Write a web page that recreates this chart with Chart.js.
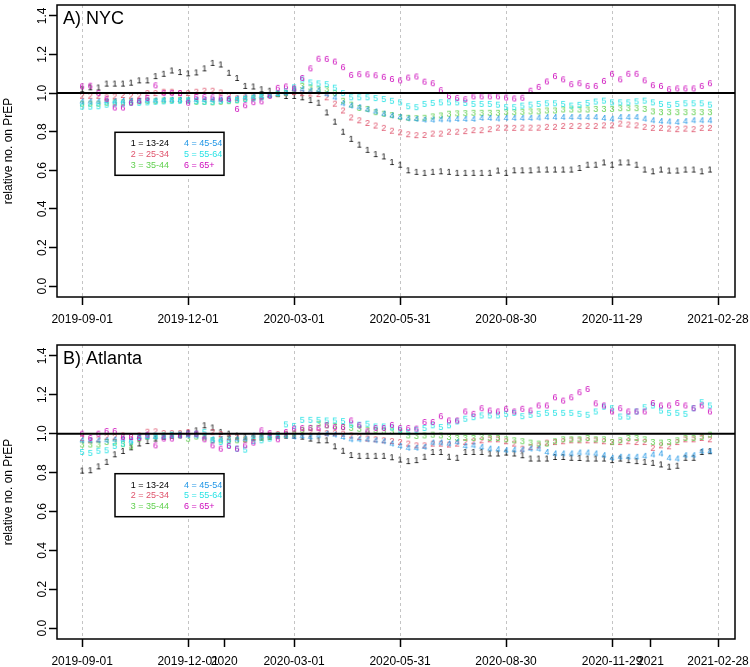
<!DOCTYPE html>
<html>
<head>
<meta charset="utf-8">
<script src="https://cdn.jsdelivr.net/npm/chart.js@4.4.0/dist/chart.umd.min.js"></script>
<style>
  html, body { margin: 0; padding: 0; background: #fff; }
  #wrap { position: relative; width: 750px; height: 667px; }
  canvas { position: absolute; left: 0; }
</style>
</head>
<body>
<div id="wrap">
  <canvas id="nyc" width="750" height="340" style="top:0px"></canvas>
  <canvas id="atl" width="750" height="327" style="top:340px"></canvas>
</div>
<script>
// weekly points, days since 2019-09-01
var weekDays = [];
for (var w = 0; w < 78; w++) weekDays.push(w * 7);

var tickDays = [0, 91, 182, 273, 364, 455, 546];
var tickLabels = ['2019-09-01', '2019-12-01', '2020-03-01', '2020-05-31', '2020-08-30', '2020-11-29', '2021-02-28'];
var yearDays = [122, 488];
var yearLabels = ['2020', '2021'];
var yTicks = [0, 0.2, 0.4, 0.6, 0.8, 1.0, 1.2, 1.4];

var groupLabels = ['1 = 13-24', '2 = 25-34', '3 = 35-44', '4 = 45-54', '5 = 55-64', '6 = 65+'];
var groupColors = ['#000000', '#DF536B', '#61D04F', '#2297E6', '#28E2E5', '#CD0BBC'];

// A) NYC
var nyc1 = [1.02,1.03,1.029,1.049,1.049,1.049,1.054,1.066,1.066,1.088,
  1.10,1.117,1.109,1.102,1.107,1.128,1.156,1.148,1.105,1.078,
  1.037,1.034,1.02,1.012,0.995,0.985,0.985,0.978,0.964,0.95,
  0.90,0.852,0.80,0.763,0.733,0.706,0.684,0.672,0.643,0.629,
  0.60,0.592,0.587,0.592,0.595,0.592,0.587,0.587,0.587,0.587,
  0.587,0.599,0.587,0.60,0.60,0.60,0.604,0.604,0.604,0.604,
  0.604,0.612,0.629,0.629,0.641,0.629,0.641,0.641,0.629,0.604,
  0.595,0.604,0.599,0.599,0.604,0.604,0.595,0.604];
var nyc2 = [0.986,0.986,0.986,0.978,0.983,0.99,0.986,0.986,1.0,1.0,
  1.007,1.007,1.0,1.0,1.007,1.012,1.012,1.003,0.986,0.973,
  0.978,0.983,0.986,0.99,0.995,1.0,1.005,1.0,0.998,0.995,
  0.978,0.945,0.91,0.874,0.859,0.845,0.832,0.82,0.805,0.797,
  0.787,0.782,0.783,0.79,0.79,0.80,0.80,0.803,0.808,0.808,
  0.813,0.821,0.821,0.82,0.821,0.821,0.821,0.825,0.825,0.83,
  0.83,0.83,0.83,0.83,0.833,0.833,0.842,0.837,0.833,0.825,
  0.82,0.82,0.816,0.813,0.816,0.813,0.82,0.82];
var nyc3 = [0.945,0.945,0.945,0.95,0.952,0.952,0.955,0.957,0.96,0.96,
  0.962,0.963,0.964,0.962,0.955,0.955,0.952,0.955,0.958,0.962,
  0.97,0.975,0.98,0.99,0.995,1.0,1.02,1.037,1.029,1.02,
  1.02,1.0,0.96,0.94,0.923,0.918,0.901,0.893,0.886,0.876,
  0.872,0.87,0.872,0.879,0.884,0.893,0.895,0.896,0.898,0.898,
  0.898,0.898,0.901,0.901,0.903,0.905,0.905,0.91,0.91,0.915,
  0.915,0.915,0.915,0.918,0.918,0.918,0.922,0.922,0.922,0.918,
  0.905,0.901,0.901,0.901,0.901,0.901,0.901,0.901];
var nyc4 = [0.956,0.956,0.956,0.958,0.958,0.96,0.96,0.96,0.962,0.962,
  0.965,0.965,0.965,0.965,0.965,0.965,0.965,0.965,0.968,0.972,
  0.978,0.982,0.985,0.99,0.995,1.0,1.02,1.02,1.012,1.015,
  0.995,0.978,0.947,0.935,0.927,0.915,0.905,0.893,0.884,0.876,
  0.869,0.866,0.862,0.862,0.864,0.864,0.866,0.866,0.866,0.871,
  0.871,0.868,0.871,0.871,0.871,0.871,0.873,0.876,0.876,0.876,
  0.876,0.876,0.876,0.876,0.871,0.867,0.876,0.876,0.876,0.867,
  0.859,0.855,0.853,0.85,0.855,0.859,0.859,0.859];
var nyc5 = [0.93,0.93,0.932,0.94,0.945,0.945,0.95,0.95,0.952,0.955,
  0.957,0.96,0.96,0.962,0.958,0.955,0.955,0.96,0.962,0.965,
  0.968,0.972,0.978,0.99,1.0,1.01,1.03,1.07,1.055,1.05,
  1.046,1.028,1.0,0.978,0.978,0.978,0.974,0.969,0.96,0.952,
  0.932,0.927,0.944,0.949,0.952,0.952,0.952,0.949,0.944,0.944,
  0.944,0.94,0.927,0.927,0.935,0.94,0.944,0.947,0.947,0.944,
  0.935,0.939,0.949,0.956,0.961,0.952,0.952,0.952,0.957,0.961,
  0.952,0.944,0.939,0.944,0.947,0.947,0.947,0.94];
var nyc6 = [1.035,1.038,1.0,0.97,0.925,0.925,0.95,0.96,0.975,1.04,
  1.0,1.0,1.0,0.95,0.98,0.98,0.978,0.973,0.97,0.918,
  0.937,0.953,0.957,0.985,1.027,1.034,1.024,1.078,1.128,1.178,
  1.177,1.163,1.134,1.094,1.098,1.097,1.092,1.084,1.073,1.066,
  1.08,1.086,1.059,1.051,1.015,0.985,0.975,0.968,0.983,0.983,
  0.983,0.983,0.977,0.972,0.976,1.012,1.032,1.06,1.088,1.071,
  1.046,1.051,1.037,1.037,1.063,1.10,1.071,1.10,1.10,1.066,
  1.041,1.037,1.02,1.024,1.024,1.024,1.037,1.051];

// B) Atlanta
var atl1 = [0.81,0.812,0.832,0.855,0.894,0.911,0.93,0.95,0.962,0.975,
  0.985,0.99,0.995,1.005,1.017,1.043,1.032,1.009,1.0,0.99,
  0.985,0.98,0.98,0.985,0.99,0.99,0.99,0.985,0.975,0.966,
  0.966,0.935,0.912,0.89,0.886,0.886,0.886,0.886,0.879,0.867,
  0.859,0.864,0.881,0.906,0.906,0.881,0.876,0.906,0.906,0.906,
  0.898,0.898,0.903,0.898,0.889,0.872,0.872,0.872,0.88,0.88,
  0.876,0.875,0.872,0.872,0.872,0.864,0.872,0.864,0.859,0.855,
  0.85,0.842,0.83,0.835,0.876,0.876,0.906,0.91];
var atl2 = [0.978,0.966,0.971,0.983,0.983,0.991,0.983,0.991,1.01,1.012,
  1.003,1.003,1.003,1.008,1.0,0.991,1.008,0.998,0.983,0.983,
  0.971,0.983,0.99,0.995,0.998,1.0,1.0,1.008,1.008,1.008,
  1.003,1.003,1.0,0.991,0.983,0.975,0.971,0.966,0.962,0.957,
  0.949,0.94,0.94,0.949,0.949,0.944,0.949,0.957,0.961,0.966,
  0.971,0.971,0.961,0.949,0.923,0.932,0.94,0.954,0.957,0.961,
  0.966,0.966,0.966,0.966,0.961,0.957,0.957,0.961,0.957,0.957,
  0.927,0.94,0.935,0.957,0.971,0.971,0.978,0.971];
var atl3 = [0.944,0.944,0.944,0.957,0.955,0.946,0.935,0.974,0.985,0.985,
  0.99,0.99,0.99,0.974,0.985,0.98,0.966,0.966,0.966,0.966,
  0.97,0.975,0.98,0.985,0.99,0.995,1.0,1.02,1.03,1.051,
  1.043,1.04,1.035,1.03,1.025,1.02,1.018,1.015,1.012,1.01,
  0.991,0.988,0.991,0.995,0.991,0.983,0.978,0.978,0.978,0.983,
  0.978,0.978,0.971,0.966,0.961,0.954,0.949,0.949,0.961,0.971,
  0.971,0.971,0.978,0.971,0.971,0.957,0.966,0.978,0.978,0.971,
  0.957,0.954,0.957,0.966,0.978,0.978,0.983,0.995];
var atl4 = [0.966,0.966,0.966,0.966,0.97,0.974,0.964,0.983,0.985,0.983,
  0.985,0.99,0.99,0.99,0.99,0.985,0.971,0.971,0.971,0.971,
  0.974,0.99,0.99,0.99,0.99,0.99,0.985,0.988,0.983,0.991,
  1.0,0.995,0.983,0.971,0.971,0.971,0.966,0.961,0.949,0.937,
  0.927,0.927,0.932,0.954,0.954,0.949,0.957,0.937,0.94,0.932,
  0.923,0.92,0.915,0.917,0.918,0.923,0.923,0.906,0.898,0.898,
  0.898,0.903,0.903,0.898,0.889,0.876,0.881,0.881,0.881,0.886,
  0.893,0.898,0.876,0.872,0.889,0.889,0.91,0.91];
var atl5 = [0.906,0.901,0.912,0.915,0.937,0.949,0.96,0.983,0.99,0.99,
  0.99,0.995,0.995,1.0,1.0,1.008,0.966,0.957,0.94,0.923,
  0.918,0.962,0.966,0.975,0.99,1.048,1.04,1.071,1.071,1.071,
  1.068,1.068,1.065,1.046,1.046,1.051,1.037,1.037,1.032,1.02,
  1.008,1.02,1.029,1.043,1.034,1.043,1.063,1.077,1.085,1.094,
  1.094,1.094,1.102,1.107,1.09,1.097,1.102,1.107,1.107,1.107,
  1.107,1.102,1.097,1.114,1.139,1.131,1.088,1.088,1.114,1.136,
  1.145,1.119,1.107,1.107,1.102,1.131,1.162,1.145];
var atl6 = [1.0,0.978,1.0,1.014,1.014,0.983,0.983,0.978,0.995,0.94,
  0.975,0.975,0.991,1.0,1.0,0.971,0.94,0.923,0.937,0.923,
  0.94,0.954,1.017,1.003,0.971,1.008,1.026,1.029,1.029,1.029,
  1.043,1.034,1.034,1.068,1.043,1.012,1.029,1.029,1.045,1.029,
  1.029,1.026,1.06,1.06,1.09,1.068,1.068,1.114,1.102,1.131,
  1.119,1.114,1.128,1.114,1.128,1.119,1.145,1.145,1.187,1.17,
  1.187,1.213,1.23,1.156,1.145,1.114,1.131,1.114,1.114,1.114,
  1.158,1.145,1.145,1.158,1.145,1.131,1.145,1.114];

var FONT = '"Liberation Sans", Arial, Helvetica, sans-serif';

// small canvas with the group digit, used as point style
function digitImage(ch, color) {
    var c = document.createElement('canvas');
    c.width = 10;
    c.height = 12;
    var g = c.getContext('2d');
    g.font = '9px ' + FONT;
    g.fillStyle = color;
    g.textAlign = 'center';
    g.textBaseline = 'middle';
    g.fillText(ch, 5, 6.5);
    return c;
}

const framePlugin = {
    id: 'frame',
    afterDatasetsDraw: (chart, args, opts) => {
        const ctx = chart.ctx;
        const ca = chart.chartArea;
        const ys = chart.scales.y;
        ctx.save();
        // reference line at 1
        var y1 = ys.getPixelForValue(1);
        ctx.strokeStyle = '#000';
        ctx.lineWidth = 2;
        ctx.beginPath();
        ctx.moveTo(ca.left, y1);
        ctx.lineTo(ca.right, y1);
        ctx.stroke();
        // box
        ctx.lineWidth = 1.5;
        ctx.strokeRect(ca.left, ca.top, ca.right - ca.left, ca.bottom - ca.top);

        // panel title
        ctx.fillStyle = '#000';
        ctx.font = '18px ' + FONT;
        ctx.textAlign = 'left';
        ctx.textBaseline = 'middle';
        ctx.fillText(opts.title, ca.left + 6, ca.top + 14.5);

        // y tick labels (rotated like R)
        ctx.font = '12px ' + FONT;
        ctx.textAlign = 'center';
        yTicks.forEach(function (v) {
            var py = ys.getPixelForValue(v);
            ctx.save();
            ctx.translate(43, py);
            ctx.rotate(-Math.PI / 2);
            ctx.fillText(v.toFixed(1), 0, 0);
            ctx.restore();
        });
        // y title
        ctx.save();
        ctx.translate(9, (ca.top + ca.bottom) / 2);
        ctx.rotate(-Math.PI / 2);
        ctx.fillText('relative no. on PrEP', 0, 0);
        ctx.restore();

        // legend box
        var lx = ca.left + 58, ly = ca.top + opts.legendTop;
        ctx.fillStyle = '#fff';
        ctx.fillRect(lx, ly, 109, 43);
        ctx.strokeStyle = '#000';
        ctx.lineWidth = 1.5;
        ctx.strokeRect(lx, ly, 109, 43);
        ctx.font = '9px ' + FONT;
        ctx.textAlign = 'left';
        for (var k = 0; k < 6; k++) {
            ctx.fillStyle = groupColors[k];
            var col = k < 3 ? 0 : 1;
            var row = k % 3;
            ctx.fillText(groupLabels[k], lx + 15.7 + col * 53.3, ly + 11.4 + row * 10.8);
        }
        ctx.restore();
    }
};

function makePanel(id, title, series, extraTicks, extraLabels, xAxisH, legendTop) {
    var allTicks = tickDays.concat(extraTicks).sort(function (a, b) { return a - b; });
    var labelFor = {};
    tickDays.forEach(function (d, i) { labelFor[d] = tickLabels[i]; });
    extraTicks.forEach(function (d, i) { labelFor[d] = extraLabels[i]; });

    var datasets = series.map(function (vals, k) {
        return {
            label: groupLabels[k],
            data: weekDays.map(function (d, i) { return { x: d, y: vals[i] }; }),
            pointStyle: digitImage(String(k + 1), groupColors[k]),
            pointRadius: 4,
            order: 5 - k
        };
    });

    return new Chart(document.getElementById(id), {
        type: 'scatter',
        data: { datasets: datasets },
        options: {
            responsive: false,
            devicePixelRatio: 1,
            animation: false,
            events: [],
            layout: { padding: { left: 0, right: 15, top: 2, bottom: 0 } },
            scales: {
                x: {
                    type: 'linear',
                    min: -21.56,
                    max: 560.56,
                    afterBuildTicks: function (s) {
                        s.ticks = allTicks.map(function (v) { return { value: v }; });
                    },
                    afterFit: function (s) {
                        s.height = xAxisH;
                        s.paddingLeft = 0;
                        s.paddingRight = 0;
                    },
                    ticks: {
                        autoSkip: false,
                        maxRotation: 0,
                        minRotation: 0,
                        padding: 7,
                        color: '#000',
                        font: { family: FONT, size: 12 },
                        callback: function (v) { return labelFor[v]; }
                    },
                    grid: {
                        color: function (c) {
                            return (c.tick && tickDays.indexOf(c.tick.value) >= 0) ? '#c4c4c4' : 'rgba(0,0,0,0)';
                        },
                        lineWidth: 1,
                        tickLength: 8,
                        tickColor: '#000',
                        tickWidth: 1.5,
                        tickBorderDash: []
                    },
                    border: { display: false, dash: [3, 3] }
                },
                y: {
                    min: -0.056,
                    max: 1.456,
                    afterBuildTicks: function (s) {
                        s.ticks = yTicks.map(function (v) { return { value: v }; });
                    },
                    afterFit: function (s) {
                        s.width = 57;
                        s.paddingTop = 0;
                        s.paddingBottom = 0;
                    },
                    ticks: { display: false },
                    grid: {
                        drawOnChartArea: false,
                        tickLength: 8,
                        tickColor: '#000',
                        tickWidth: 1.5
                    },
                    border: { display: false }
                }
            },
            plugins: {
                legend: { display: false },
                tooltip: { enabled: false },
                frame: { title: title, legendTop: legendTop }
            }
        },
        plugins: [framePlugin]
    });
}

makePanel('nyc', 'A) NYC', [nyc1, nyc2, nyc3, nyc4, nyc5, nyc6], [], [], 43, 127.3);
makePanel('atl', 'B) Atlanta', [atl1, atl2, atl3, atl4, atl5, atl6], yearDays, yearLabels, 28, 128.7);
</script>
</body>
</html>
